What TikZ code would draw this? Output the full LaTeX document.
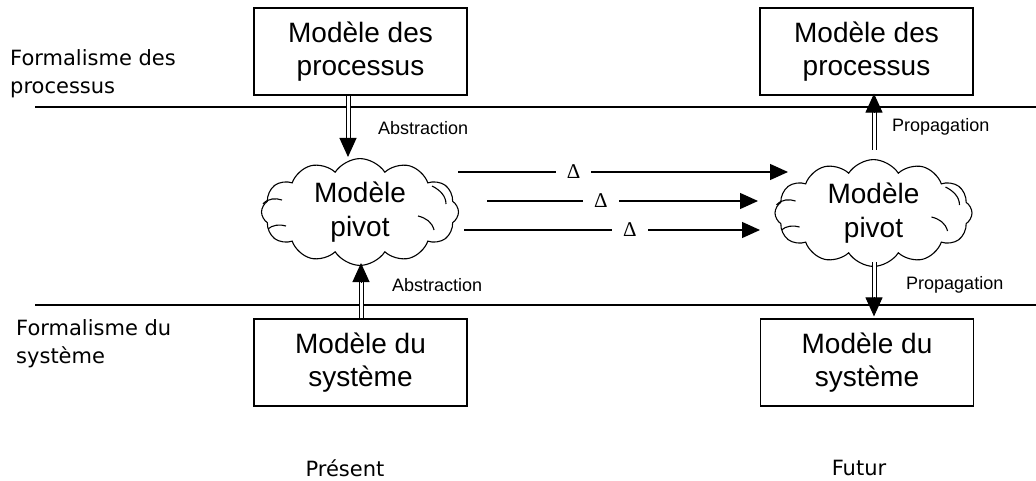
\documentclass[tikz,border=0pt]{standalone}
\usepackage{fontspec}
\setmainfont{Liberation Sans}
\newfontfamily\comic{DejaVu Sans}
\newfontfamily\serifgreek{Liberation Serif}
\usetikzlibrary{shapes.symbols, arrows.meta, calc}
\begin{document}
\begin{tikzpicture}[x=1pt,y=-1pt,
  box/.style={draw, line width=1.2pt, minimum width=213pt, minimum height=87pt, align=center, font=\fontsize{28}{33}\selectfont, inner sep=0pt},
  pivot/.style={cloud, draw, line width=1.1pt, cloud puffs=12, cloud puff arc=115, aspect=2, minimum width=197pt, minimum height=97pt, align=center, font=\fontsize{28}{34}\selectfont, inner sep=0pt},
  curl/.style={line width=1.1pt},
  lane/.style={line width=1.2pt},
  lbl/.style={font=\fontsize{18}{20}\selectfont, anchor=west, inner sep=0pt},
  side/.style={font=\comic\fontsize{21}{28}\selectfont, align=left, anchor=west, inner sep=0pt},
  era/.style={font=\comic\fontsize{21}{24}\selectfont, inner sep=0pt},
  dshaft/.style={double, double distance=3pt, line width=1pt},
  dhead/.style={-{Triangle[length=19pt, width=17pt]}, line width=1pt},
  delta/.style={-{Triangle[length=18pt, width=16pt]}, line width=1.2pt},
  dlab/.style={fill=white, inner xsep=11pt, inner ysep=1pt, font=\serifgreek\fontsize{21}{22}\selectfont}
]
\useasboundingbox (0,0) rectangle (1036,481);

% lanes
\coordinate (t0) at (35,107);
\coordinate (t1) at (1036,107);
\coordinate (b0) at (35,305);
\coordinate (b1) at (1036,305);
\draw[lane] (t0) -- (t1);
\draw[lane] (b0) -- (b1);

% boxes
\node[box] (pl) at (360.5,51.5) {Modèle des\\processus};
\node[box] (pf) at (866.5,51.5) {Modèle des\\processus};
\node[box] (sl) at (360.5,362.5) {Modèle du\\système};
\node[box] (sf) at (867,362.5) {Modèle du\\système};

% clouds
\node[pivot] (cl) at (360,212) {Modèle\\pivot};
\node[pivot] (cf) at (873.5,213) {Modèle\\pivot};
\foreach \c in {cl,cf}{
  \draw[curl] ($(\c)+(-97,-8)$) .. controls ($(\c)+(-92,-14)$) and ($(\c)+(-84,-14)$) .. ($(\c)+(-78,-12)$);
  \draw[curl] ($(\c)+(-92,17)$) .. controls ($(\c)+(-88,13)$) and ($(\c)+(-80,12)$) .. ($(\c)+(-74,14)$);
  \draw[curl] ($(\c)+(72,-26)$) .. controls ($(\c)+(80,-22)$) and ($(\c)+(86,-16)$) .. ($(\c)+(86,-8)$);
  \draw[curl] ($(\c)+(58,4)$) .. controls ($(\c)+(66,6)$) and ($(\c)+(72,10)$) .. ($(\c)+(74,18)$);
}

% side texts
\node[side] (fp) at (10,74) {Formalisme des\\processus};
\node[side] (fs) at (16,343.5) {Formalisme du\\système};
\node[era] (pr) at (345,468) {Présent};
\node[era] (fu) at (859,468) {Futur};

% labels
\node[lbl] (ab1) at (378,128) {Abstraction};
\node[lbl] (ab2) at (392,285) {Abstraction};
\node[lbl] (pg1) at (892,127) {Propagation};
\node[lbl] (pg2) at (906,285) {Propagation};

% double arrows
\coordinate (a1s) at ($(pl.south)+(-12.5,0)$);
\coordinate (a1e) at (348,157);
\draw[dshaft] (a1s) -- ($(a1e)+(0,-17)$);
\draw[dhead] ($(a1e)+(0,-19)$) -- (a1e);

\coordinate (a2s) at ($(sl.north)+(0.5,0)$);
\coordinate (a2e) at (361,263);
\draw[dshaft] (a2s) -- ($(a2e)+(0,17)$);
\draw[dhead] ($(a2e)+(0,19)$) -- (a2e);

\coordinate (p1s) at (874,150);
\coordinate (p1e) at ($(pf.south)+(7.5,-2)$);
\draw[dshaft] (p1s) -- ($(p1e)+(0,17)$);
\draw[dhead] ($(p1e)+(0,19)$) -- (p1e);

\coordinate (p2s) at (874,262);
\coordinate (p2e) at ($(sf.north)+(7,-2)$);
\draw[dshaft] (p2s) -- ($(p2e)+(0,-17)$);
\draw[dhead] ($(p2e)+(0,-19)$) -- (p2e);

% delta arrows
\coordinate (d1s) at (458,172);
\coordinate (d1e) at (788,172);
\coordinate (d2s) at (487,201);
\coordinate (d2e) at (758,201);
\coordinate (d3s) at (464,230);
\coordinate (d3e) at (760,230);
\draw[delta] (d1s) -- node[dlab, pos=0.35] (l1) {Δ} (d1e);
\draw[delta] (d2s) -- node[dlab, pos=0.42] (l2) {Δ} (d2e);
\draw[delta] (d3s) -- node[dlab, pos=0.56] (l3) {Δ} (d3e);
\end{tikzpicture}
\end{document}
